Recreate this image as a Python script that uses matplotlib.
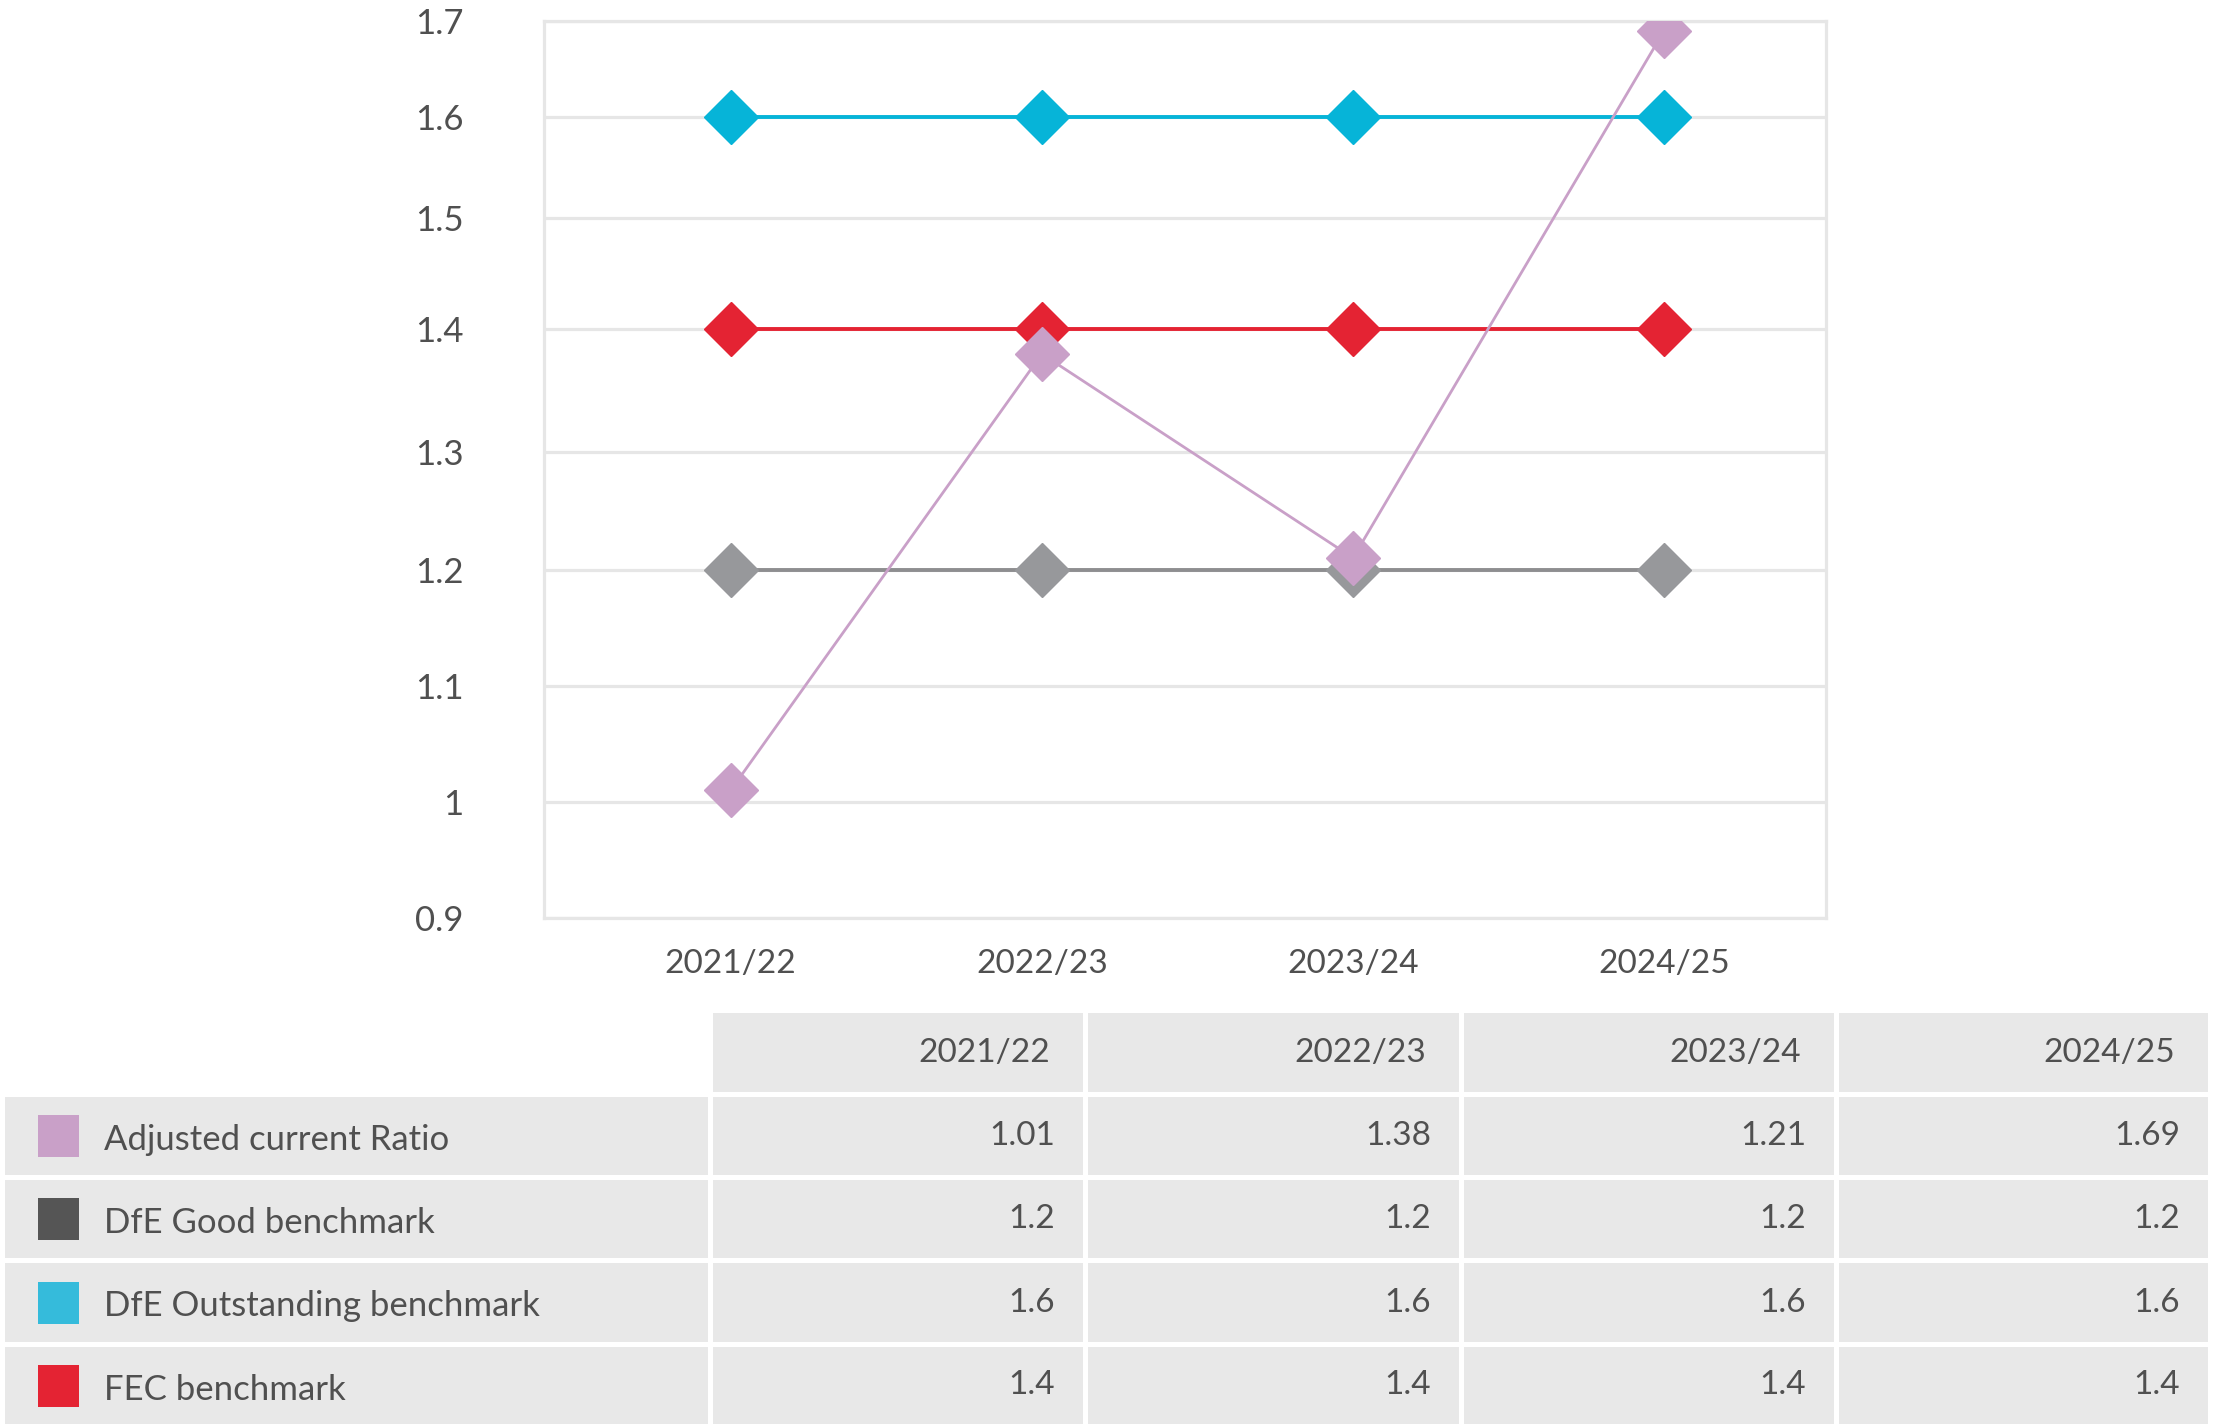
import numpy as np
import matplotlib.pyplot as plt
from matplotlib.patches import Rectangle

plt.rcParams['font.family'] = ['Lato', 'DejaVu Sans']

# data
years = ['2021/22', '2022/23', '2023/24', '2024/25']
adjusted_ratio = [1.01, 1.38, 1.21, 1.69]
dfe_good = [1.2, 1.2, 1.2, 1.2]
dfe_outstanding = [1.6, 1.6, 1.6, 1.6]
fec_benchmark = [1.4, 1.4, 1.4, 1.4]
y_ticks = [0.9, 1.0, 1.1, 1.2, 1.3, 1.4, 1.5, 1.6, 1.7]
y_tick_labels = ['0.9', '1', '1.1', '1.2', '1.3', '1.4', '1.5', '1.6', '1.7']
series_names = ['Adjusted current Ratio', 'DfE Good benchmark',
                'DfE Outstanding benchmark', 'FEC benchmark']

# the source graphic has unevenly spaced gridlines; fraction of axis height per tick
grid_frac = [0.0, 0.1295, 0.2589, 0.3884, 0.5190, 0.6563, 0.7801, 0.8929, 1.0]

TEXT = '#505050'
GRID = '#E6E6E6'
CELL = '#E8E8E8'
W, H = 2214, 1427


def fwd(v):
    return np.interp(v, y_ticks, grid_frac)


def inv(f):
    return np.interp(f, grid_frac, y_ticks)


def draw_chart(fig):
    ax = fig.add_axes([544 / W, 1 - 918 / H, (1826 - 544) / W, (918 - 21) / H])
    ax.set_yscale('function', functions=(fwd, inv))
    x = np.arange(len(years))
    # line colour, marker colour, width (drawing order: purple last)
    styles = [
        (dfe_good, '#8E8E90', '#97989B', 2.8),
        (fec_benchmark, '#E42333', '#E42333', 2.8),
        (dfe_outstanding, '#06B4D8', '#06B4D8', 2.8),
        (adjusted_ratio, '#C9A0C8', '#C9A0C8', 2.0),
    ]
    for vals, lc, mc, lw in styles:
        ax.plot(x, vals, color=lc, lw=lw, marker='D', markersize=27,
                markerfacecolor=mc, markeredgecolor=mc, zorder=3)

    ax.set_xlim(-0.6, 3.52)
    ax.set_ylim(0.9, 1.7)
    ax.set_yticks(y_ticks)
    ax.set_yticklabels(y_tick_labels)
    ax.minorticks_off()
    ax.set_xticks(x)
    ax.set_xticklabels(years)
    ax.yaxis.grid(True, color=GRID, lw=2.3)
    ax.set_axisbelow(True)
    for s in ax.spines.values():
        s.set_color(GRID)
        s.set_linewidth(2.3)
    ax.tick_params(axis='both', length=0, colors=TEXT)
    ax.tick_params(axis='y', pad=58, labelsize=25)
    ax.tick_params(axis='x', pad=22, labelsize=24)
    return ax


def draw_table(fig):
    tax = fig.add_axes([0, 0, 1, 1])
    tax.set_xlim(0, W)
    tax.set_ylim(H, 0)
    tax.axis('off')

    label_col = (5, 708)
    cols = [(713, 1083), (1088, 1459), (1464, 1834), (1839, 2208)]
    header = (1013, 1092)
    rows = [(1097, 1175), (1180, 1258), (1263, 1342), (1347, 1424)]
    swatches = ['#C9A0C8', '#555555', '#35BBDB', '#E42333']
    table_vals = [adjusted_ratio, dfe_good, dfe_outstanding, fec_benchmark]

    # header row
    for (x0, x1), yr in zip(cols, years):
        tax.add_patch(Rectangle((x0, header[0]), x1 - x0, header[1] - header[0],
                                color=CELL, lw=0))
        tax.text(x1 - 33, (header[0] + header[1]) / 2, yr, ha='right',
                 va='center', fontsize=24, color=TEXT)

    for (y0, y1), name, sw, vals in zip(rows, series_names, swatches, table_vals):
        yc = (y0 + y1) / 2
        tax.add_patch(Rectangle((label_col[0], y0), label_col[1] - label_col[0],
                                y1 - y0, color=CELL, lw=0))
        tax.add_patch(Rectangle((38, yc - 21), 41, 42, color=sw, lw=0))
        tax.text(104, yc + 4, name, ha='left', va='center', fontsize=25,
                 color=TEXT)
        for (x0, x1), v in zip(cols, vals):
            tax.add_patch(Rectangle((x0, y0), x1 - x0, y1 - y0, color=CELL, lw=0))
            tax.text(x1 - 28, yc, f'{v:g}', ha='right', va='center',
                     fontsize=24, color=TEXT)


if __name__ == '__main__':
    fig = plt.figure(figsize=(W / 100, H / 100), dpi=100)
    draw_chart(fig)
    draw_table(fig)
    fig.savefig('out.png', dpi=100, facecolor='white')
